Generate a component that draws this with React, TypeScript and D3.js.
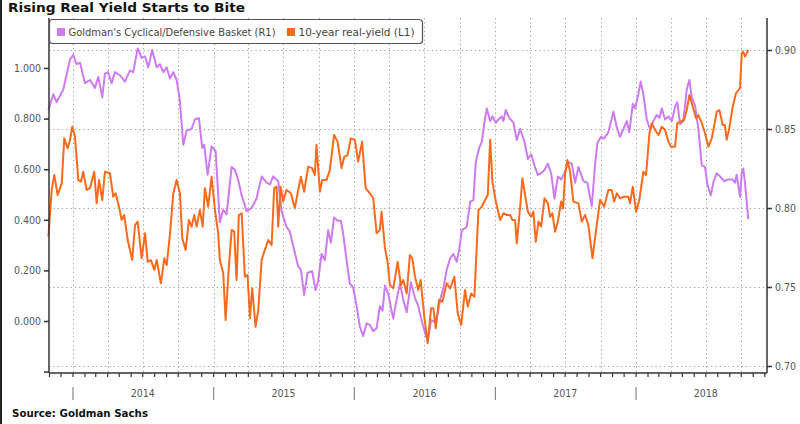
import { useEffect, useRef } from 'react'
import * as d3 from 'd3'

// 10-year real yield (left axis), decimal year + value
const yieldT = [
  2013.825, 2013.849, 2013.867, 2013.891, 2013.92, 2013.938, 2013.962, 2013.979, 2013.995, 2014.014,
  2014.038, 2014.057, 2014.073, 2014.097, 2014.121, 2014.151, 2014.168, 2014.185, 2014.208, 2014.227,
  2014.263, 2014.286, 2014.303, 2014.327, 2014.346, 2014.364, 2014.389, 2014.421, 2014.441, 2014.46,
  2014.488, 2014.512, 2014.531, 2014.554, 2014.578, 2014.595, 2014.625, 2014.649, 2014.666, 2014.689,
  2014.713, 2014.737, 2014.76, 2014.777, 2014.801, 2014.824, 2014.843, 2014.862, 2014.879, 2014.902,
  2014.922, 2014.938, 2014.961, 2014.985, 2015.009, 2015.032, 2015.044, 2015.068, 2015.085, 2015.108,
  2015.128, 2015.146, 2015.163, 2015.179, 2015.199, 2015.222, 2015.241, 2015.258, 2015.274, 2015.298,
  2015.317, 2015.341, 2015.364, 2015.388, 2015.412, 2015.43, 2015.447, 2015.459, 2015.476, 2015.494,
  2015.518, 2015.549, 2015.577, 2015.601, 2015.62, 2015.643, 2015.672, 2015.7, 2015.719, 2015.731,
  2015.755, 2015.771, 2015.802, 2015.826, 2015.856, 2015.881, 2015.909, 2015.928, 2015.952, 2015.975,
  2016.004, 2016.027, 2016.055, 2016.08, 2016.11, 2016.134, 2016.158, 2016.181, 2016.193, 2016.217,
  2016.236, 2016.252, 2016.276, 2016.307, 2016.33, 2016.347, 2016.371, 2016.394, 2016.411, 2016.43,
  2016.453, 2016.47, 2016.496, 2016.52, 2016.544, 2016.56, 2016.577, 2016.6, 2016.624, 2016.655,
  2016.679, 2016.709, 2016.733, 2016.757, 2016.785, 2016.804, 2016.828, 2016.851, 2016.88, 2016.904,
  2016.927, 2016.946, 2016.963, 2016.979, 2017.003, 2017.034, 2017.057, 2017.081, 2017.105, 2017.121,
  2017.14, 2017.152, 2017.176, 2017.192, 2017.211, 2017.231, 2017.254, 2017.27, 2017.287, 2017.306,
  2017.325, 2017.349, 2017.373, 2017.389, 2017.405, 2017.424, 2017.444, 2017.467, 2017.481, 2017.496,
  2017.512, 2017.531, 2017.554, 2017.59, 2017.614, 2017.638, 2017.661, 2017.69, 2017.716, 2017.744,
  2017.773, 2017.803, 2017.827, 2017.844, 2017.863, 2017.886, 2017.915, 2017.945, 2017.957, 2017.977,
  2018.0, 2018.023, 2018.052, 2018.071, 2018.095, 2018.112, 2018.135, 2018.159, 2018.183, 2018.206,
  2018.23, 2018.247, 2018.277, 2018.293, 2018.317, 2018.341, 2018.36, 2018.379, 2018.403, 2018.426,
  2018.443, 2018.467, 2018.49, 2018.514, 2018.538, 2018.561, 2018.573, 2018.592, 2018.616, 2018.632,
  2018.644, 2018.663, 2018.687, 2018.71, 2018.739, 2018.751, 2018.762, 2018.774, 2018.798,
]
const yieldV = [
  0.333, 0.518, 0.577, 0.498, 0.544, 0.722, 0.683, 0.716, 0.768, 0.729,
  0.557, 0.551, 0.59, 0.518, 0.525, 0.59, 0.465, 0.557, 0.478, 0.59,
  0.584, 0.491, 0.505, 0.452, 0.399, 0.419, 0.32, 0.241, 0.379, 0.393,
  0.248, 0.347, 0.234, 0.241, 0.202, 0.241, 0.149, 0.248, 0.221, 0.34,
  0.505, 0.557, 0.505, 0.327, 0.281, 0.399, 0.373, 0.419, 0.373, 0.439,
  0.373, 0.525, 0.452, 0.57, 0.439, 0.347, 0.241, 0.189, 0.004, 0.215,
  0.36, 0.353, 0.162, 0.419, 0.426, 0.175, 0.182, 0.011, 0.129, -0.023,
  0.043, 0.241, 0.281, 0.32, 0.3, 0.525, 0.531, 0.373, 0.531, 0.472,
  0.518, 0.505, 0.446, 0.518, 0.57, 0.511, 0.61, 0.604, 0.577, 0.696,
  0.511, 0.557, 0.557, 0.597, 0.735, 0.709, 0.604, 0.649, 0.656, 0.722,
  0.716, 0.63, 0.709, 0.525, 0.505, 0.485, 0.347, 0.36, 0.432, 0.289,
  0.233, 0.142, 0.129, 0.234, 0.142, 0.162, 0.109, 0.261, 0.248, 0.175,
  0.123, 0.162, 0.017, -0.088, 0.05, 0.05, -0.029, 0.083, 0.076, 0.149,
  0.129, 0.175, 0.03, -0.016, 0.123, 0.057, 0.109, 0.096, 0.439, 0.452,
  0.478, 0.498, 0.716, 0.551, 0.472, 0.399, 0.426, 0.419, 0.419, 0.399,
  0.399, 0.307, 0.452, 0.564, 0.498, 0.432, 0.412, 0.432, 0.313, 0.393,
  0.373, 0.485, 0.465, 0.412, 0.426, 0.353, 0.393, 0.472, 0.445, 0.584,
  0.636, 0.59, 0.472, 0.465, 0.393, 0.419, 0.379, 0.248, 0.36, 0.478,
  0.452, 0.518, 0.518, 0.472, 0.505, 0.485, 0.491, 0.491, 0.465, 0.531,
  0.432, 0.478, 0.59, 0.577, 0.742, 0.782, 0.755, 0.735, 0.768, 0.755,
  0.709, 0.689, 0.689, 0.782, 0.788, 0.795, 0.834, 0.893, 0.847, 0.801,
  0.814, 0.782, 0.742, 0.689, 0.722, 0.788, 0.827, 0.834, 0.775, 0.775,
  0.716, 0.762, 0.847, 0.9, 0.92, 1.058, 1.065, 1.045, 1.071,
]

// Goldman's cyclical/defensive basket (right axis)
const basketT = [
  2013.825, 2013.86, 2013.884, 2013.931, 2013.979, 2014.002, 2014.026, 2014.05, 2014.085, 2014.121,
  2014.156, 2014.18, 2014.208, 2014.227, 2014.249, 2014.275, 2014.298, 2014.334, 2014.369, 2014.405,
  2014.428, 2014.46, 2014.488, 2014.512, 2014.535, 2014.563, 2014.595, 2014.618, 2014.642, 2014.666,
  2014.689, 2014.713, 2014.737, 2014.76, 2014.784, 2014.808, 2014.843, 2014.867, 2014.895, 2014.919,
  2014.933, 2014.957, 2014.985, 2015.014, 2015.044, 2015.068, 2015.092, 2015.128, 2015.151, 2015.174,
  2015.199, 2015.234, 2015.27, 2015.305, 2015.341, 2015.376, 2015.4, 2015.423, 2015.459, 2015.483,
  2015.518, 2015.542, 2015.565, 2015.601, 2015.62, 2015.643, 2015.668, 2015.7, 2015.724, 2015.743,
  2015.767, 2015.79, 2015.814, 2015.833, 2015.856, 2015.881, 2015.904, 2015.92, 2015.945, 2015.968,
  2015.991, 2016.016, 2016.039, 2016.063, 2016.087, 2016.11, 2016.134, 2016.158, 2016.181, 2016.2,
  2016.217, 2016.24, 2016.264, 2016.276, 2016.3, 2016.323, 2016.347, 2016.371, 2016.401, 2016.43,
  2016.453, 2016.477, 2016.501, 2016.52, 2016.544, 2016.567, 2016.591, 2016.608, 2016.631, 2016.655,
  2016.679, 2016.702, 2016.726, 2016.742, 2016.762, 2016.797, 2016.821, 2016.844, 2016.861, 2016.885,
  2016.904, 2016.922, 2016.939, 2016.963, 2016.979, 2017.003, 2017.022, 2017.046, 2017.057, 2017.074,
  2017.098, 2017.128, 2017.152, 2017.176, 2017.206, 2017.231, 2017.254, 2017.277, 2017.302, 2017.325,
  2017.349, 2017.373, 2017.396, 2017.42, 2017.444, 2017.467, 2017.491, 2017.519, 2017.543, 2017.567,
  2017.59, 2017.626, 2017.654, 2017.685, 2017.709, 2017.725, 2017.749, 2017.773, 2017.803, 2017.839,
  2017.863, 2017.886, 2017.91, 2017.934, 2017.952, 2017.977, 2017.993, 2018.016, 2018.033, 2018.052,
  2018.076, 2018.099, 2018.123, 2018.147, 2018.166, 2018.183, 2018.206, 2018.23, 2018.254, 2018.277,
  2018.293, 2018.313, 2018.336, 2018.36, 2018.379, 2018.396, 2018.419, 2018.443, 2018.467, 2018.49,
  2018.507, 2018.531, 2018.549, 2018.573, 2018.597, 2018.625, 2018.656, 2018.687, 2018.703, 2018.715,
  2018.739, 2018.751, 2018.762, 2018.774, 2018.798,
]
const basketV = [
  0.862, 0.872, 0.867, 0.875, 0.894, 0.897, 0.891, 0.892, 0.879, 0.881,
  0.876, 0.883, 0.87, 0.885, 0.886, 0.879, 0.886, 0.884, 0.88, 0.887,
  0.886, 0.901, 0.895, 0.896, 0.889, 0.9, 0.889, 0.891, 0.886, 0.889,
  0.882, 0.886, 0.881, 0.868, 0.84, 0.849, 0.85, 0.856, 0.857, 0.838,
  0.84, 0.821, 0.839, 0.836, 0.791, 0.799, 0.796, 0.826, 0.824, 0.818,
  0.808, 0.798, 0.8, 0.806, 0.82, 0.816, 0.815, 0.82, 0.817, 0.798,
  0.788, 0.785, 0.776, 0.763, 0.761, 0.745, 0.759, 0.76, 0.748, 0.754,
  0.771, 0.767, 0.786, 0.778, 0.794, 0.792, 0.792, 0.784, 0.767, 0.752,
  0.75, 0.738, 0.725, 0.719, 0.727, 0.726, 0.722, 0.724, 0.738, 0.735,
  0.751, 0.746, 0.735, 0.73, 0.742, 0.752, 0.742, 0.734, 0.753, 0.743,
  0.738, 0.729, 0.721, 0.716, 0.729, 0.728, 0.733, 0.742, 0.749, 0.761,
  0.768, 0.771, 0.766, 0.773, 0.786, 0.788, 0.804, 0.805, 0.829, 0.838,
  0.842, 0.854, 0.863, 0.855, 0.858, 0.854, 0.856, 0.858, 0.855, 0.862,
  0.857, 0.854, 0.843, 0.85, 0.842, 0.831, 0.834, 0.827, 0.821, 0.822,
  0.824, 0.828, 0.822, 0.806, 0.82, 0.818, 0.822, 0.829, 0.828, 0.816,
  0.826, 0.817, 0.816, 0.801, 0.828, 0.841, 0.845, 0.844, 0.848, 0.861,
  0.851, 0.845, 0.85, 0.855, 0.848, 0.866, 0.863, 0.872, 0.88, 0.872,
  0.856, 0.85, 0.855, 0.859, 0.857, 0.863, 0.856, 0.858, 0.855, 0.864,
  0.867, 0.853, 0.855, 0.875, 0.881, 0.87, 0.865, 0.85, 0.827, 0.826,
  0.815, 0.808, 0.816, 0.822, 0.82, 0.817, 0.818, 0.818, 0.816, 0.821,
  0.807, 0.822, 0.825, 0.816, 0.793,
]

const leftMajor = [-0.2, 0, 0.2, 0.4, 0.6, 0.8, 1.0]
const leftMinor = [-0.1, 0.1, 0.3, 0.5, 0.7, 0.9, 1.1]
const rightMajor = [0.7, 0.75, 0.8, 0.85, 0.9]
const rightMinor = [0.725, 0.775, 0.825, 0.875]
const yearLabels = [2014, 2015, 2016, 2017, 2018]

const PURPLE = '#cc7cf0'
const ORANGE = '#fa6a1c'
const FONT = '"DejaVu Sans Condensed", "DejaVu Sans", sans-serif'

// decimal year -> Date
function toDate(t: number) {
  const y = Math.floor(t)
  const s = new Date(y, 0, 1).getTime()
  const e = new Date(y + 1, 0, 1).getTime()
  return new Date(s + (t - y) * (e - s))
}

export default function App() {
  const ref = useRef<SVGSVGElement | null>(null)
  const W = 800
  const H = 424

  useEffect(() => {
    const svg = d3.select(ref.current)
    svg.selectAll('*').remove()

    const plot = { left: 49, right: 767, top: 18, bottom: 373 }

    const x = d3.scaleTime()
      .domain([toDate(2013.8295), toDate(2018.9307)])
      .range([plot.left, plot.right])
    const yL = d3.scaleLinear().domain([-0.2055, 1.1976]).range([plot.bottom, plot.top])
    const yR = d3.scaleLinear().domain([0.69557, 0.92025]).range([plot.bottom, plot.top])

    svg.append('rect').attr('width', W).attr('height', H).attr('fill', '#fff')
    // dark border on the left edge
    svg.append('rect').attr('x', 0).attr('y', 0).attr('width', 2).attr('height', H).attr('fill', '#222')

    // title
    svg.append('text')
      .attr('x', 8).attr('y', 11.5)
      .attr('font-family', FONT).attr('font-weight', 'bold').attr('font-size', 13)
      .attr('fill', '#111')
      .attr('textLength', 237).attr('lengthAdjust', 'spacingAndGlyphs')
      .text('Rising Real Yield Starts to Bite')

    // grid
    const grid = svg.append('g').attr('stroke', '#a0a0a0').attr('stroke-width', 1).attr('stroke-dasharray', '1.3,3')
    const quarters = d3.timeMonth.every(3)!.range(x.domain()[0], x.domain()[1])
    grid.selectAll('.vg').data(quarters).enter().append('line')
      .attr('x1', (d) => Math.round(x(d)) + 0.5).attr('x2', (d) => Math.round(x(d)) + 0.5)
      .attr('y1', plot.top).attr('y2', plot.bottom)
    grid.selectAll('.hg').data(rightMajor).enter().append('line')
      .attr('x1', plot.left).attr('x2', plot.right)
      .attr('y1', (d) => Math.round(yR(d)) + 0.5).attr('y2', (d) => Math.round(yR(d)) + 0.5)

    // lines
    const yieldData = yieldT.map((t, i) => ({ d: toDate(t), v: yieldV[i] }))
    const basketData = basketT.map((t, i) => ({ d: toDate(t), v: basketV[i] }))

    svg.append('path')
      .datum(basketData)
      .attr('fill', 'none').attr('stroke', PURPLE).attr('stroke-width', 2).attr('stroke-linejoin', 'round')
      .attr('d', d3.line<{ d: Date; v: number }>().x((p) => x(p.d)).y((p) => yR(p.v)))
    svg.append('path')
      .datum(yieldData)
      .attr('fill', 'none').attr('stroke', ORANGE).attr('stroke-width', 2).attr('stroke-linejoin', 'round')
      .attr('d', d3.line<{ d: Date; v: number }>().x((p) => x(p.d)).y((p) => yL(p.v)))

    // axis frame
    const frame = svg.append('g').attr('stroke', '#333').attr('stroke-width', 1.5)
    frame.append('line').attr('x1', plot.left).attr('x2', plot.left).attr('y1', plot.top).attr('y2', plot.bottom)
    frame.append('line').attr('x1', plot.right).attr('x2', plot.right).attr('y1', plot.top).attr('y2', plot.bottom)
    frame.append('line').attr('x1', plot.left).attr('x2', plot.right).attr('y1', plot.bottom).attr('y2', plot.bottom)

    // left axis
    const left = svg.append('g').attr('transform', `translate(${plot.left},0)`)
    left.call(d3.axisLeft(yL).tickValues(leftMinor).tickSize(3).tickFormat(() => ''))
    left.call(d3.axisLeft(yL).tickValues(leftMajor).tickSize(5).tickPadding(3)
      .tickFormat((d) => (+d < -0.01 ? '' : d3.format('.3f')(+d))))
    left.select('.domain').remove()
    left.selectAll('line').attr('stroke', '#333').attr('stroke-width', 1.5)
    left.selectAll('text').attr('font-family', FONT).attr('font-size', 10.5).attr('fill', '#555')

    // right axis
    const right = svg.append('g').attr('transform', `translate(${plot.right},0)`)
    right.call(d3.axisRight(yR).tickValues(rightMinor).tickSize(3).tickFormat(() => ''))
    right.call(d3.axisRight(yR).tickValues(rightMajor).tickSize(5).tickPadding(3).tickFormat(d3.format('.2f')))
    right.select('.domain').remove()
    right.selectAll('line').attr('stroke', '#333').attr('stroke-width', 1.5)
    right.selectAll('text').attr('font-family', FONT).attr('font-size', 10.5).attr('fill', '#555')

    // bottom axis: month ticks, year separators, year labels
    const months = d3.timeMonth.range(x.domain()[0], x.domain()[1])
    svg.append('g').selectAll('line').data(months).enter().append('line')
      .attr('x1', (d) => x(d)).attr('x2', (d) => x(d))
      .attr('y1', plot.bottom).attr('y2', plot.bottom + 4)
      .attr('stroke', '#333').attr('stroke-width', 1.2)
    const years = d3.timeYear.range(x.domain()[0], x.domain()[1])
    svg.append('g').selectAll('line').data(years).enter().append('line')
      .attr('x1', (d) => x(d)).attr('x2', (d) => x(d))
      .attr('y1', plot.bottom + 14).attr('y2', plot.bottom + 27)
      .attr('stroke', '#888').attr('stroke-width', 1.2)
    svg.append('g').selectAll('text').data(yearLabels).enter().append('text')
      .attr('x', (d) => x(new Date(d, 6, 1)))
      .attr('y', plot.bottom + 24)
      .attr('text-anchor', 'middle')
      .attr('font-family', FONT).attr('font-size', 10.5).attr('fill', '#555')
      .text((d) => String(d))

    // legend
    const lg = svg.append('g')
    lg.append('rect')
      .attr('x', 49.5).attr('y', 19.5).attr('width', 373).attr('height', 24).attr('rx', 3)
      .attr('fill', '#fff').attr('stroke', '#555').attr('stroke-width', 1.2)
    const items = [
      { label: "Goldman's Cyclical/Defensive Basket (R1)", color: PURPLE, x: 57, w: 207 },
      { label: '10-year real-yield (L1)', color: ORANGE, x: 287, w: 116 },
    ]
    items.forEach((it) => {
      lg.append('rect').attr('x', it.x).attr('y', 28).attr('width', 8).attr('height', 8).attr('fill', it.color)
      lg.append('text')
        .attr('x', it.x + 11.5).attr('y', 35.5)
        .attr('font-family', FONT).attr('font-size', 10.5).attr('fill', '#444')
        .attr('textLength', it.w).attr('lengthAdjust', 'spacingAndGlyphs')
        .text(it.label)
    })

    // source
    svg.append('text')
      .attr('x', 12).attr('y', 416.5)
      .attr('font-family', FONT).attr('font-weight', 'bold').attr('font-size', 11)
      .attr('fill', '#111')
      .attr('textLength', 136).attr('lengthAdjust', 'spacingAndGlyphs')
      .text('Source: Goldman Sachs')
  }, [])

  return (
    <svg
      ref={ref}
      width={W}
      height={H}
      style={{ position: 'absolute', left: 0, top: 0, display: 'block' }}
    />
  )
}
